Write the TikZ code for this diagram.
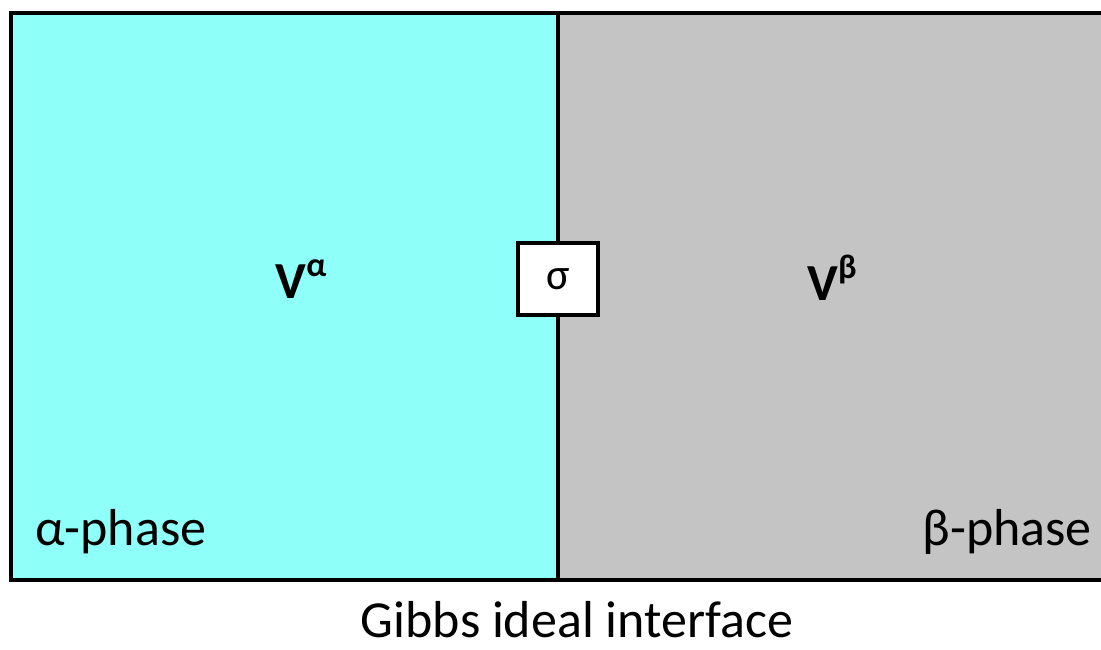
\documentclass[tikz,border=0pt]{standalone}
\usepackage{fontspec}
\setmainfont{Carlito}
\definecolor{alphacol}{RGB}{143,255,250}
\definecolor{betacol}{RGB}{196,196,196}
\newcommand{\supx}[1]{\raisebox{0.42em}{\fontsize{34}{34}\selectfont #1}}
\tikzset{
  border/.style={draw=black,line width=4pt},
  lbl/.style={inner sep=0pt,font=\fontsize{52}{60}\selectfont},
  vlbl/.style={inner sep=0pt,font=\bfseries\fontsize{52}{60}\selectfont},
}
\begin{document}
\begin{tikzpicture}[x=1pt,y=-1pt]
\useasboundingbox (0,0) rectangle (1101,649);
\clip (0,0) rectangle (1101,649);
\fill[alphacol] (11,13) rectangle (558,580);
\fill[betacol] (558,13) rectangle (1110,580);
\draw[border] (1110,13) -- (11,13) -- (11,580) -- (1110,580);
\coordinate (dtop) at (558,13);
\coordinate (dbot) at (558,580);
\node[draw=black,line width=4pt,fill=white,minimum width=80pt,minimum height=72pt,inner sep=0pt,font=\fontsize{44}{50}\selectfont] (sig) at (558,279) {σ};
\draw[border] (dtop) -- (sig.north);
\draw[border] (sig.south) -- (dbot);
\node[vlbl,anchor=base] (va) at (301,298) {V\supx{α}};
\node[vlbl,anchor=base] (vb) at (832,300) {V\supx{β}};
\node[lbl,anchor=base west] (ap) at (35,545) {α-phase};
\node[lbl,anchor=base east] (bp) at (1092,545) {β-phase};
\node[lbl,anchor=base] (cap) at (577,637) {Gibbs ideal interface};
\end{tikzpicture}
\end{document}
